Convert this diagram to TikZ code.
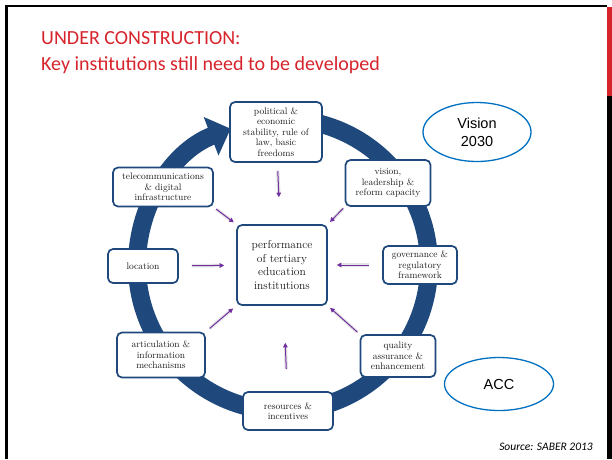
\documentclass[tikz,border=0pt]{standalone}
\usepackage{fontspec}
\usetikzlibrary{arrows.meta,shapes.geometric}
\newfontfamily\slidefont{Carlito}
\newfontfamily\arialfont{Liberation Sans}
\definecolor{ringblue}{RGB}{31,73,125}
\definecolor{feedpurple}{RGB}{112,48,160}
\definecolor{ovalblue}{RGB}{0,112,192}
\definecolor{titlered}{RGB}{214,36,44}

\begin{document}
\begin{tikzpicture}[x=1pt,y=1pt]
    \tikzstyle{every node}+=[inner sep=0pt]
    \tikzstyle{box}=[draw=ringblue, line width=1.7pt, fill=white, rounded corners=5pt, align=center, text=black!90, font=\fontsize{9.5}{10.5}\selectfont]
    \tikzstyle{oval}=[ellipse, draw=ovalblue, line width=1.3pt, fill=white, align=center, font=\arialfont\fontsize{14.5}{18}\selectfont]
    \tikzstyle{feed}=[feedpurple, line width=1pt, -{Triangle[width=4.5pt,length=4.5pt]}, preaction={draw=black!10, line width=3.5pt}]
    \useasboundingbox (0,0) rectangle (612,-459);
    \fill [black] (5,-4.5) rectangle (607,-7);
    \fill [black] (5,-4.5) rectangle (7.5,-459);
    \fill [titlered] (607,-7) rectangle (612,-96);
    \fill [black] (607,-96) rectangle (612,-459);
    \node (head) [anchor=base west, text=titlered, font=\slidefont\fontsize{20}{25}\selectfont] at (41,-44) {UNDER CONSTRUCTION:};
    \node (sub) [anchor=base west, text=titlered, font=\slidefont\fontsize{20}{25}\selectfont] at (41,-70) {Key institutions still need to be developed};
    \coordinate (hub) at (283,-265);
    \draw [ringblue, line width=18pt, -{Triangle[width=40pt,length=21pt]}] ([shift={(95:146pt)}]hub) arc [start angle=95, end angle=-249, radius=146pt];
    \node (pol) [box, minimum width=92pt, minimum height=60pt] at (276,-132) {political \&\\economic\\stability, rule of\\law, basic\\freedoms};
    \node (vis) [box, minimum width=85pt, minimum height=46pt] at (388,-183) {vision,\\leadership \&\\reform capacity};
    \node (tel) [box, minimum width=100pt, minimum height=39pt] at (163,-187) {telecommunications\\\& digital\\infrastructure};
    \node (loc) [box, minimum width=70pt, minimum height=34pt] at (143,-266) {location};
    \node (perf) [box, minimum width=90pt, minimum height=80pt, font=\fontsize{11.5}{13.5}\selectfont] at (282,-265) {performance\\of tertiary\\education\\institutions};
    \node (gov) [box, minimum width=74pt, minimum height=38pt] at (420,-265) {governance \&\\regulatory\\framework};
    \node (art) [box, minimum width=88pt, minimum height=45pt] at (161,-355) {articulation \&\\information\\mechanisms};
    \node (qual) [box, minimum width=75pt, minimum height=42pt] at (398,-356) {quality\\assurance \&\\enhancement};
    \node (res) [box, minimum width=90pt, minimum height=38pt] at (288,-411) {resources \&\\incentives};
    \draw [feed, shorten <=8pt, shorten >=27pt] (pol) -- (perf);
    \draw [feed, shorten <=2pt, shorten >=3pt] (vis.south west) -- (perf.north east);
    \draw [feed, shorten <=3pt, shorten >=3pt] (tel.south east) -- (perf.north west);
    \draw [feed, shorten <=13pt, shorten >=12pt] (loc) -- (perf);
    \draw [feed, shorten <=13pt, shorten >=9pt] (gov) -- (perf);
    \draw [feed, shorten <=5pt, shorten >=4pt] (art.north east) -- (perf.south west);
    \draw [feed, shorten <=3pt, shorten >=3pt] (qual.north west) -- (perf.south east);
    \draw [feed, shorten <=22pt, shorten >=37pt] (res) -- (perf);
    \node (vision) [oval, minimum width=108pt, minimum height=59pt] at (477,-132) {Vision\\2030};
    \node (acc) [oval, minimum width=109pt, minimum height=53pt] at (499,-384) {ACC};
    \node (src) [anchor=base east, font=\slidefont\itshape\fontsize{11.5}{14}\selectfont] at (593,-450) {Source: SABER 2013};
\end{tikzpicture}
\end{document}
